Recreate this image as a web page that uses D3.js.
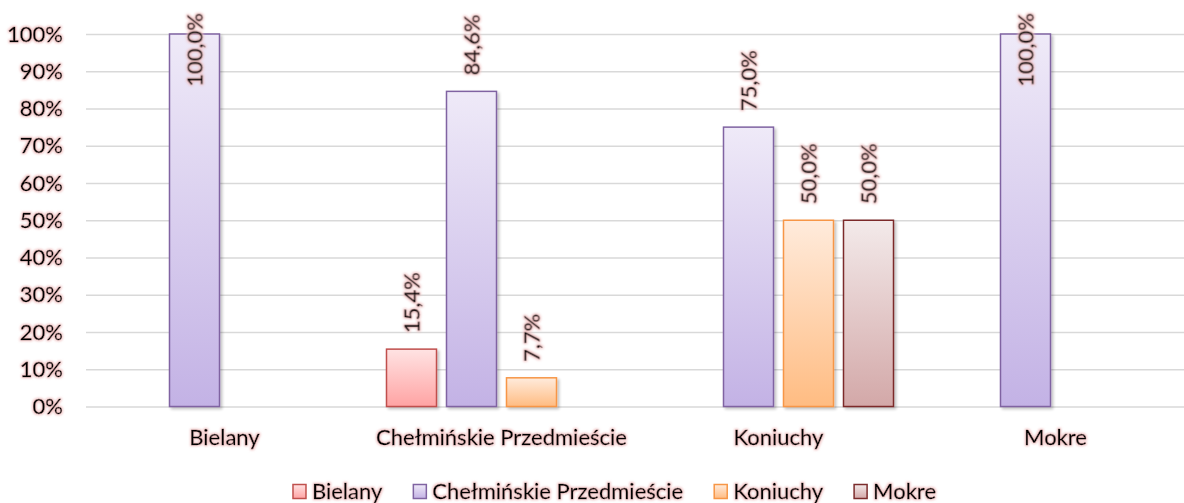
<!DOCTYPE html>
<html>
<head>
<meta charset="utf-8">
<script src="https://cdn.jsdelivr.net/npm/d3@7"></script>
<style>
  html, body { margin: 0; padding: 0; background: #fff; }
  svg { display: block; }
  text { font-family: Lato, "Liberation Sans", sans-serif; fill: #000; stroke: #000; stroke-width: 0.35px; }
</style>
</head>
<body>
<svg id="chart" width="1184" height="503"></svg>
<script>
// ---- data ----
const categories = ["Bielany", "Chełmińskie Przedmieście", "Koniuchy", "Mokre"];
const seriesNames = ["Bielany", "Chełmińskie Przedmieście", "Koniuchy", "Mokre"];
const valuesBielany = [0, 15.4, 0, 0];
const valuesChelminskie = [100, 84.6, 75, 100];
const valuesKoniuchy = [0, 7.7, 50, 0];
const valuesMokre = [0, 0, 50, 0];
const yTickValues = [0, 10, 20, 30, 40, 50, 60, 70, 80, 90, 100];

const seriesValues = [valuesBielany, valuesChelminskie, valuesKoniuchy, valuesMokre];
const seriesStyle = [
  { top: "#ffe3e3", bottom: "#ffa3a3", stroke: "#c0504d" },
  { top: "#efeaf8", bottom: "#c3b2e5", stroke: "#8064a2" },
  { top: "#ffebdc", bottom: "#ffbc82", stroke: "#f79646" },
  { top: "#f3eaea", bottom: "#d3a8a8", stroke: "#7b2c2c" }
];

const W = 1184, H = 503;
const plotLeft = 86, plotRight = 1194, plotTop = 34, plotBottom = 406.5;
const fontSize = 22;

const svg = d3.select("#chart");
const defs = svg.append("defs");

// text halo
const glow = defs.append("filter").attr("id", "glow")
  .attr("x", "-20%").attr("y", "-20%").attr("width", "140%").attr("height", "140%");
glow.append("feMorphology").attr("in", "SourceAlpha").attr("operator", "dilate").attr("radius", 1.3).attr("result", "d");
glow.append("feGaussianBlur").attr("in", "d").attr("stdDeviation", 1.3).attr("result", "b");
glow.append("feFlood").attr("flood-color", "#efbcbc").attr("flood-opacity", 0.85);
glow.append("feComposite").attr("in2", "b").attr("operator", "in").attr("result", "g");
const gm = glow.append("feMerge");
gm.append("feMergeNode").attr("in", "g");
gm.append("feMergeNode").attr("in", "SourceGraphic");

// bar shadow
const sh = defs.append("filter").attr("id", "barshadow")
  .attr("x", "-20%").attr("y", "-10%").attr("width", "150%").attr("height", "130%");
sh.append("feGaussianBlur").attr("in", "SourceAlpha").attr("stdDeviation", 1.5).attr("result", "b");
sh.append("feOffset").attr("in", "b").attr("dx", 1.5).attr("dy", 1.5).attr("result", "o");
sh.append("feComponentTransfer").attr("in", "o").attr("result", "t")
  .append("feFuncA").attr("type", "linear").attr("slope", 0.25);
const sm = sh.append("feMerge");
sm.append("feMergeNode").attr("in", "t");
sm.append("feMergeNode").attr("in", "SourceGraphic");

seriesStyle.forEach((s, i) => {
  const g = defs.append("linearGradient").attr("id", "grad" + i)
    .attr("x1", 0).attr("y1", 0).attr("x2", 0).attr("y2", 1);
  g.append("stop").attr("offset", "0%").attr("stop-color", s.top);
  g.append("stop").attr("offset", "100%").attr("stop-color", s.bottom);
});

// scales
const x0 = d3.scaleBand().domain(categories).range([plotLeft, plotRight]).paddingInner(0).paddingOuter(0);
const x1 = d3.scaleBand().domain(seriesNames).range([0, x0.bandwidth()]).paddingInner(1 / 6).paddingOuter(0.3917);
const y = d3.scaleLinear().domain([0, 100]).range([plotBottom, plotTop]);

const pl = d3.formatLocale({ decimal: ",", thousands: " ", grouping: [3], currency: ["", " zł"] });
const fmt = pl.format(".1f");

// gridlines + y axis
const yAxis = d3.axisLeft(y).tickValues(yTickValues).tickFormat(d => d + "%")
  .tickSize(-(W - plotLeft)).tickPadding(23);
const yg = svg.append("g").attr("transform", `translate(${plotLeft},0)`).call(yAxis);
yg.select(".domain").remove();
yg.selectAll(".tick line").attr("stroke", "#d9d9d9").attr("stroke-width", 1.5);
yg.selectAll(".tick text")
  .style("font-family", 'Lato, "Liberation Sans", sans-serif')
  .attr("font-size", fontSize).attr("fill", "#000").attr("filter", "url(#glow)");

// x axis labels
const xAxis = d3.axisBottom(x0).tickSize(0).tickPadding(0);
const xg = svg.append("g").attr("transform", `translate(0,${plotBottom})`).call(xAxis);
xg.select(".domain").remove();
xg.selectAll(".tick text")
  .style("font-family", 'Lato, "Liberation Sans", sans-serif')
  .attr("font-size", fontSize).attr("fill", "#000")
  .attr("dy", null).attr("y", 38).attr("filter", "url(#glow)");

// bars
const cells = [];
categories.forEach((c, ci) => {
  seriesNames.forEach((s, si) => {
    cells.push({ cat: c, ser: s, si: si, v: seriesValues[si][ci] });
  });
});
const nonZero = cells.filter(d => d.v > 0);

svg.append("g").selectAll("rect").data(nonZero).join("rect")
  .attr("x", d => x0(d.cat) + x1(d.ser))
  .attr("y", d => y(d.v))
  .attr("width", x1.bandwidth())
  .attr("height", d => y(0) - y(d.v))
  .attr("fill", d => `url(#grad${d.si})`)
  .attr("stroke", d => seriesStyle[d.si].stroke)
  .attr("stroke-width", 1.5)
  .attr("filter", "url(#barshadow)");

// data labels (rotated)
const labels = svg.append("g").selectAll("text").data(nonZero).join("text")
  .attr("font-size", fontSize)
  .attr("text-anchor", "start")
  .attr("dy", "0.35em")
  .attr("filter", "url(#glow)")
  .text(d => fmt(d.v) + "%");
labels.each(function (d) {
  const len = this.getComputedTextLength();
  const cx = x0(d.cat) + x1(d.ser) + x1.bandwidth() / 2;
  let yStart = y(d.v) - 16;
  if (yStart - len < 13) yStart = 13 + len;
  d3.select(this).attr("transform", `translate(${cx},${yStart}) rotate(-90)`);
});

// legend
const legend = svg.append("g");
const items = legend.selectAll("g").data(seriesNames).join("g");
items.append("rect").attr("width", 13).attr("height", 14)
  .attr("fill", (d, i) => `url(#grad${i})`)
  .attr("stroke", (d, i) => seriesStyle[i].stroke).attr("stroke-width", 1.5);
items.append("text").attr("x", 19).attr("y", 7).attr("dy", "0.35em")
  .attr("font-size", fontSize).attr("filter", "url(#glow)").text(d => d);
let xpos = 0;
items.each(function () {
  const t = d3.select(this).select("text").node().getComputedTextLength();
  this.__x = xpos;
  xpos += 19 + t + 31;
});
const totalW = xpos - 31;
const startX = 614.5 - totalW / 2;
items.attr("transform", function () { return `translate(${startX + this.__x},484.5)`; });
</script>
</body>
</html>
